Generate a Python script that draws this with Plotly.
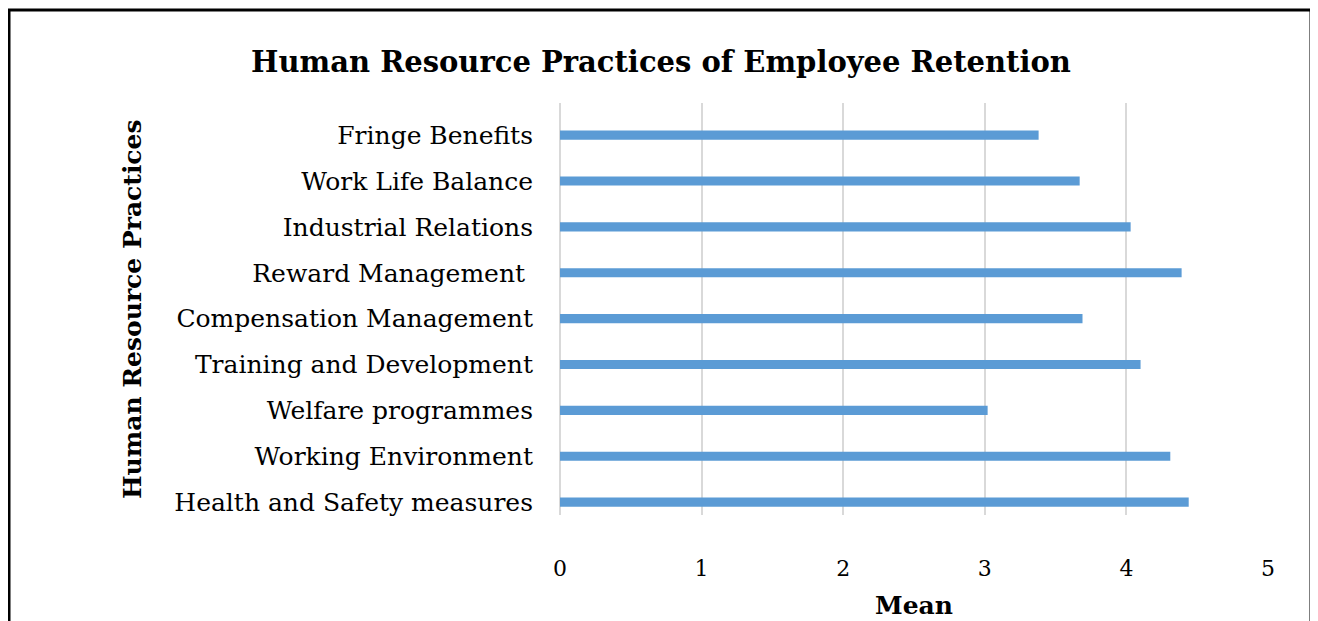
import plotly.graph_objects as go

categories = [
    "Health and Safety measures",
    "Working Environment",
    "Welfare programmes",
    "Training and Development",
    "Compensation Management",
    "Reward Management ",
    "Industrial Relations",
    "Work Life Balance",
    "Fringe Benefits",
]
means = [4.44, 4.31, 3.02, 4.10, 3.69, 4.39, 4.03, 3.67, 3.38]
x_ticks = [0, 1, 2, 3, 4, 5]

W, H = 1318, 621
OFF = 8  # page body margin
L, T = 560 - OFF, 103 - OFF
pw, ph = 708, 412
R, B = W - L - pw, H - T - ph

def px(x):
    return (x - OFF - L) / pw

def py(y):
    return (T + ph - (y - OFF)) / ph

FONT = "DejaVu Serif, serif"

fig = go.Figure(go.Bar(
    y=categories, x=means, orientation="h",
    marker=dict(color="#5B9BD5", line=dict(width=0)),
    width=0.2,
))

fig.update_layout(
    width=W, height=H,
    margin=dict(l=L, r=R, t=T, b=B, autoexpand=False),
    paper_bgcolor="white", plot_bgcolor="white",
    showlegend=False,
    font=dict(family=FONT, color="#000000"),
    xaxis=dict(
        range=[0, 5], tickvals=x_ticks, showgrid=True,
        gridcolor="#D9D9D9", gridwidth=1.5,
        zeroline=True, zerolinecolor="#D9D9D9", zerolinewidth=1.5,
        showline=False, ticks="",
        tickfont=dict(family=FONT, size=22, color="#000000"),
        ticklabelstandoff=38,
    ),
    yaxis=dict(
        type="category", range=[-0.28, 8.7],
        showgrid=False, zeroline=False, showline=False, ticks="",
        tickfont=dict(family=FONT, size=25, color="#000000"),
        ticklabelstandoff=26,
    ),
    annotations=[
        dict(text="<b>Human Resource Practices of Employee Retention</b>",
             x=px(661), y=py(62), xref="paper", yref="paper",
             xanchor="center", yanchor="middle", showarrow=False,
             font=dict(family=FONT, size=29, color="#000000")),
        dict(text="<b>Human Resource Practices</b>",
             x=px(132), y=py(309), xref="paper", yref="paper",
             xanchor="center", yanchor="middle", showarrow=False,
             textangle=-90,
             font=dict(family=FONT, size=25, color="#000000")),
        dict(text="<b>Mean</b>",
             x=px(914), y=py(605), xref="paper", yref="paper",
             xanchor="center", yanchor="middle", showarrow=False,
             font=dict(family=FONT, size=25, color="#000000")),
    ],
    shapes=[
        dict(type="rect", xref="paper", yref="paper",
             x0=px(9), x1=px(1311), y0=py(640), y1=py(10),
             line=dict(color="#000000", width=3), fillcolor="rgba(0,0,0,0)",
             layer="above"),
    ],
)

fig.write_html("out.html")
